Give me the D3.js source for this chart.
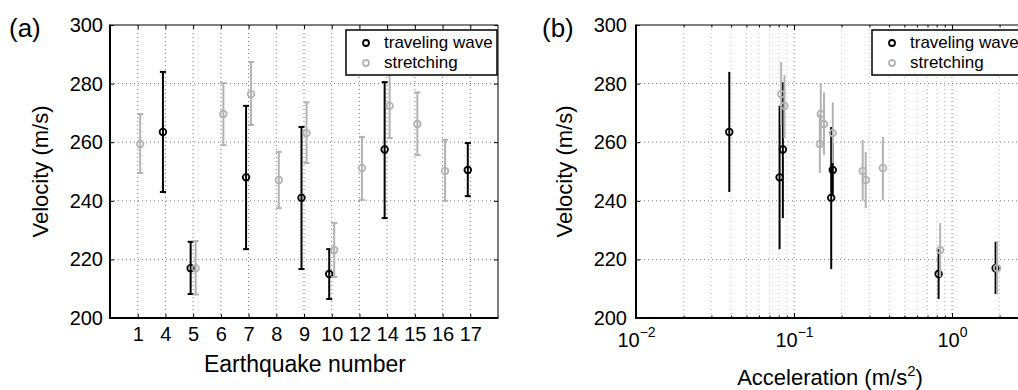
<!DOCTYPE html>
<html>
<head>
<meta charset="utf-8">
<script src="https://cdn.jsdelivr.net/npm/d3@7"></script>
<style>
  body { margin: 0; background: #fff; overflow: hidden; }
  svg { font-family: "Liberation Sans", Arial, sans-serif; display: block; }
  .tick line { stroke: #000; }
  .tick text { font-family: "Liberation Sans", Arial, sans-serif; font-size: 20px; fill: #000; }
  .grid { stroke: #7a7a7a; stroke-width: 1; stroke-dasharray: 1,3; }
  .minor { stroke: #bdbdbd; stroke-width: 1; stroke-dasharray: 1,3; }
</style>
</head>
<body>
<script>
// earthquakes and their peak accelerations (m/s^2)
var quakes = [1, 4, 5, 6, 7, 8, 9, 10, 12, 14, 15, 16, 17];
var accel  = [0.144, 0.0394, 1.91, 0.146, 0.082, 0.281, 0.174, 0.832, 0.361, 0.086, 0.153, 0.269, 0.178];

// traveling wave velocity (m/s) with error bounds
var twQuake = [4, 5, 7, 9, 10, 14, 17];
var twVel   = [263.5, 217, 248, 241, 215, 257.5, 250.5];
var twLow   = [243, 208.2, 223.5, 216.7, 206.5, 234.1, 241.6];
var twHigh  = [284, 226, 272.4, 265.2, 223.5, 280.5, 259.7];

// stretching velocity (m/s) with error bounds
var stQuake = [1, 5, 6, 7, 8, 9, 10, 12, 14, 15, 16];
var stVel   = [259.4, 217, 269.6, 276.4, 247.1, 263.1, 223.2, 251.2, 272.4, 266.2, 250.2];
var stLow   = [249.5, 208, 259, 265.9, 237.5, 252.9, 214, 240.3, 261.4, 255.6, 240];
var stHigh  = [269.6, 226.3, 280.2, 287.4, 256.7, 273.6, 232.4, 261.8, 283, 277, 260.8];

var yTicks = [200, 220, 240, 260, 280, 300];
var xLogTicks = [0.01, 0.1, 1, 10];
var exponents = ["\u22122", "\u22121", "0", "1"];

var w = 1018, h = 390;
var yTop = 25, yBot = 318;
var black = "#000", gray = "#b3b3b3";

function accelOf(q) { return accel[quakes.indexOf(q)]; }

function rows(qs, v, lo, hi) {
  return qs.map(function(q, i) { return {q: q, a: accelOf(q), v: v[i], lo: lo[i], hi: hi[i]}; });
}
var tw = rows(twQuake, twVel, twLow, twHigh);
var st = rows(stQuake, stVel, stLow, stHigh);

var svg = d3.select("body").append("svg")
            .attr("width", w)
            .attr("height", h);

var yScale = d3.scaleLinear().domain([200, 300]).range([yBot, yTop]);

//---------------- panel (a) ----------------
var ax = {l: 110, r: 498};
var xA = d3.scalePoint().domain(quakes).range([ax.l, ax.r]).padding(1);

var ga = svg.append("g");

// grid
ga.selectAll(".vg").data(quakes).enter().append("line")
  .attr("class", "grid")
  .attr("x1", function(d) { return xA(d); }).attr("x2", function(d) { return xA(d); })
  .attr("y1", yTop).attr("y2", yBot);
ga.selectAll(".hg").data(yTicks.slice(1, -1)).enter().append("line")
  .attr("class", "grid")
  .attr("x1", ax.l).attr("x2", ax.r)
  .attr("y1", function(d) { return yScale(d); }).attr("y2", function(d) { return yScale(d); });

// axes
ga.append("g").attr("transform", "translate(" + ax.l + ",0)")
  .call(d3.axisLeft(yScale).tickValues(yTicks).tickSize(-4).tickPadding(7))
  .call(function(g) { g.select(".domain").remove(); });
ga.append("g").attr("transform", "translate(" + ax.r + ",0)")
  .call(d3.axisRight(yScale).tickValues(yTicks).tickSize(-4).tickFormat(""))
  .call(function(g) { g.select(".domain").remove(); });
ga.append("g").attr("transform", "translate(0," + yBot + ")")
  .call(d3.axisBottom(xA).tickSize(-4).tickPadding(9))
  .call(function(g) { g.select(".domain").remove(); });
ga.append("g").attr("transform", "translate(0," + yTop + ")")
  .call(d3.axisTop(xA).tickSize(-4).tickFormat(""))
  .call(function(g) { g.select(".domain").remove(); });

function errorA(data, color, off) {
  var g = ga.append("g").attr("stroke", color).attr("fill", "none");
  g.selectAll(".bar").data(data).enter().append("line")
    .attr("stroke-width", 2)
    .attr("x1", function(d) { return xA(d.q) + off; }).attr("x2", function(d) { return xA(d.q) + off; })
    .attr("y1", function(d) { return yScale(d.lo); }).attr("y2", function(d) { return yScale(d.hi); });
  ["lo", "hi"].forEach(function(k) {
    g.selectAll(".cap" + k).data(data).enter().append("line")
      .attr("stroke-width", 2)
      .attr("x1", function(d) { return xA(d.q) + off - 3; }).attr("x2", function(d) { return xA(d.q) + off + 3; })
      .attr("y1", function(d) { return yScale(d[k]); }).attr("y2", function(d) { return yScale(d[k]); });
  });
  g.selectAll("circle").data(data).enter().append("circle")
    .attr("stroke-width", 1.8).attr("fill", "none")
    .attr("r", 3.3)
    .attr("cx", function(d) { return xA(d.q) + off; })
    .attr("cy", function(d) { return yScale(d.v); });
}
errorA(tw, black, -2.5);
errorA(st, gray, 2.5);

// box
ga.append("line").attr("x1", ax.l).attr("x2", ax.r).attr("y1", yTop).attr("y2", yTop).attr("stroke", "#000").attr("stroke-width", 1);
ga.append("line").attr("x1", ax.r).attr("x2", ax.r).attr("y1", yTop).attr("y2", yBot).attr("stroke", "#000").attr("stroke-width", 1);
ga.append("line").attr("x1", ax.l).attr("x2", ax.l).attr("y1", yTop - 0.5).attr("y2", yBot + 1).attr("stroke", "#000").attr("stroke-width", 2);
ga.append("line").attr("x1", ax.l - 1).attr("x2", ax.r + 0.5).attr("y1", yBot).attr("y2", yBot).attr("stroke", "#000").attr("stroke-width", 2);

ga.append("text").attr("x", 305).attr("y", 372).attr("text-anchor", "middle")
  .style("font-size", "23px").text("Earthquake number");
ga.append("text").attr("transform", "translate(48," + (yTop + yBot) / 2 + ") rotate(-90)")
  .attr("text-anchor", "middle").style("font-size", "22px").text("Velocity (m/s)");
ga.append("text").attr("x", 9).attr("y", 37).style("font-size", "26px").text("(a)");

function legend(g, x, wid) {
  g.append("rect").attr("x", x).attr("y", 30).attr("width", wid).attr("height", 45)
    .attr("fill", "#fff").attr("stroke", "#000").attr("stroke-width", 1.5);
  [["traveling wave", black, 43, 48], ["stretching", gray, 63, 68]].forEach(function(it) {
    g.append("circle").attr("cx", x + 20).attr("cy", it[2]).attr("r", 3)
      .attr("fill", "none").attr("stroke", it[1]).attr("stroke-width", 1.8);
    g.append("text").attr("x", x + 38).attr("y", it[3]).style("font-size", "17px").text(it[0]);
  });
}
legend(ga, 346, 151);

//---------------- panel (b) ----------------
var bx = {l: 636, r: 1110};
var xB = d3.scaleLog().domain([0.01, 10]).range([bx.l, bx.r]);
var gb = svg.append("g");
var allTicks = xB.ticks();
function isMajor(d) { return Math.abs(Math.log10(d) - Math.round(Math.log10(d))) < 1e-6; }

gb.selectAll(".vg").data(allTicks.filter(function(d) { return d > 0.01 && d < 10; })).enter().append("line")
  .attr("class", function(d) { return isMajor(d) ? "grid" : "minor"; })
  .attr("x1", function(d) { return xB(d); }).attr("x2", function(d) { return xB(d); })
  .attr("y1", yTop).attr("y2", yBot);
gb.selectAll(".hg").data(yTicks.slice(1, -1)).enter().append("line")
  .attr("class", "grid")
  .attr("x1", bx.l).attr("x2", bx.r)
  .attr("y1", function(d) { return yScale(d); }).attr("y2", function(d) { return yScale(d); });

gb.append("g").attr("transform", "translate(" + bx.l + ",0)")
  .call(d3.axisLeft(yScale).tickValues(yTicks).tickSize(-4).tickPadding(9))
  .call(function(g) { g.select(".domain").remove(); });

var xAxisB = gb.append("g").attr("transform", "translate(0," + yBot + ")")
  .call(d3.axisBottom(xB).tickValues(xLogTicks.slice(0, 3)).tickSize(-5).tickPadding(15).tickFormat(""))
  .call(function(g) { g.select(".domain").remove(); });
xAxisB.selectAll(".tick text").each(function(d, i) {
  var t = d3.select(this);
  t.append("tspan").text("10");
  t.append("tspan").attr("dy", "-10").style("font-size", "14px").text(exponents[i]);
});
gb.append("g").attr("transform", "translate(0," + yBot + ")")
  .call(d3.axisBottom(xB).tickValues(allTicks.filter(function(d) { return !isMajor(d); })).tickSize(-2.5).tickFormat(""))
  .call(function(g) { g.select(".domain").remove(); });
gb.append("g").attr("transform", "translate(0," + yTop + ")")
  .call(d3.axisTop(xB).tickValues(xLogTicks).tickSize(-5).tickFormat(""))
  .call(function(g) { g.select(".domain").remove(); });
gb.append("g").attr("transform", "translate(0," + yTop + ")")
  .call(d3.axisTop(xB).tickValues(allTicks.filter(function(d) { return !isMajor(d); })).tickSize(-2.5).tickFormat(""))
  .call(function(g) { g.select(".domain").remove(); });

function errorB(data, color, off) {
  var g = gb.append("g").attr("stroke", color).attr("fill", "none");
  g.selectAll("line").data(data).enter().append("line")
    .attr("stroke-width", 2)
    .attr("x1", function(d) { return xB(d.a) + off; }).attr("x2", function(d) { return xB(d.a) + off; })
    .attr("y1", function(d) { return yScale(d.lo); }).attr("y2", function(d) { return yScale(d.hi); });
  g.selectAll("circle").data(data).enter().append("circle")
    .attr("stroke-width", 1.8).attr("fill", "none")
    .attr("r", 3.3)
    .attr("cx", function(d) { return xB(d.a) + off; })
    .attr("cy", function(d) { return yScale(d.v); });
}
errorB(tw, black, -0.8);
errorB(st, gray, 0.8);

gb.append("line").attr("x1", bx.l).attr("x2", bx.r).attr("y1", yTop).attr("y2", yTop).attr("stroke", "#000").attr("stroke-width", 1);
gb.append("line").attr("x1", bx.l).attr("x2", bx.l).attr("y1", yTop - 0.5).attr("y2", yBot + 1).attr("stroke", "#000").attr("stroke-width", 2);
gb.append("line").attr("x1", bx.l - 1).attr("x2", bx.r).attr("y1", yBot).attr("y2", yBot).attr("stroke", "#000").attr("stroke-width", 2);

var lab = gb.append("text").attr("x", 830).attr("y", 385).attr("text-anchor", "middle").style("font-size", "22px");
lab.append("tspan").text("Acceleration (m/s");
lab.append("tspan").attr("dy", "-9").style("font-size", "15px").text("2");
lab.append("tspan").attr("dy", "9").text(")");
gb.append("text").attr("transform", "translate(572," + (yTop + yBot) / 2 + ") rotate(-90)")
  .attr("text-anchor", "middle").style("font-size", "22px").text("Velocity (m/s)");
gb.append("text").attr("x", 542).attr("y", 37).style("font-size", "26px").text("(b)");

legend(gb, 872, 152);
</script>
</body>
</html>
